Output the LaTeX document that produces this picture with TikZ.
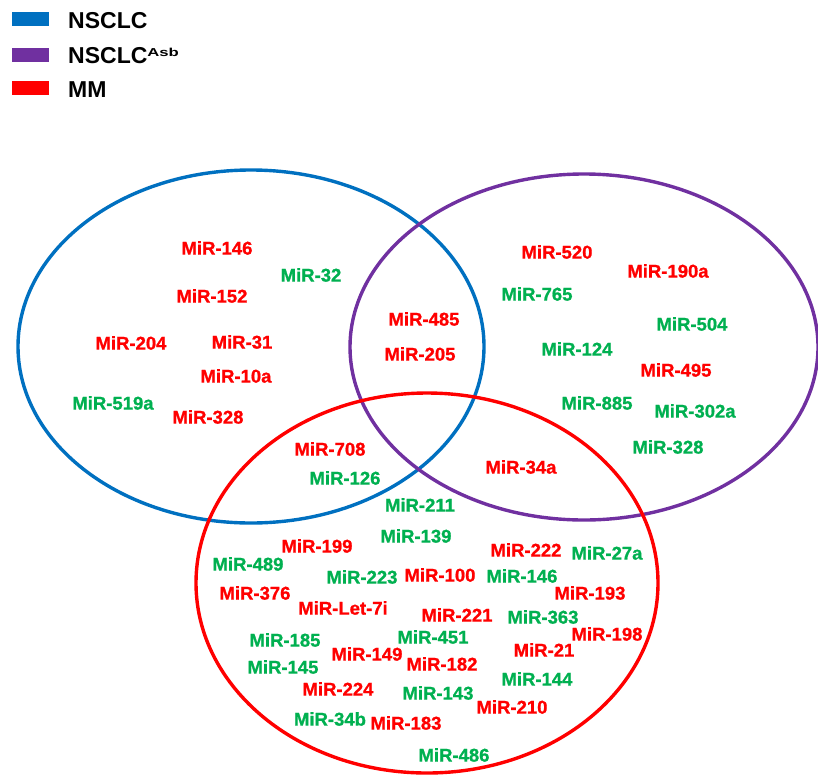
\documentclass[tikz,border=0pt]{standalone}
\usepackage{fontspec}
\setmainfont{Liberation Sans}
\newfontfamily\labfont{Liberation Sans Bold}[FakeBold=1]
\definecolor{nblue}{HTML}{0070C0}
\definecolor{npurple}{HTML}{7030A0}
\definecolor{mmred}{HTML}{FF0000}
\definecolor{mgreen}{HTML}{00B050}
\tikzset{
  lab/.style={font=\labfont\fontsize{18.5}{20}\selectfont, inner sep=0pt, text height=13.2pt, text depth=0pt},
  rd/.style={lab, text=mmred},
  gr/.style={lab, text=mgreen},
  swatch/.style={inner sep=0pt, minimum width=37pt, minimum height=14pt},
  legtxt/.style={anchor=west, inner sep=0pt, font=\bfseries\fontsize{23}{25}\selectfont, text height=16.5pt, text depth=0pt},
  venn/.style={line width=3.4pt}
}
\begin{document}
\begin{tikzpicture}[x=1pt,y=-1pt]
\useasboundingbox (0,0) rectangle (818,776);
% legend
\node[swatch, fill=nblue] (sw1) at (30.5,19) {};
\node[swatch, fill=npurple] (sw2) at (30.5,55) {};
\node[swatch, fill=mmred] (sw3) at (30.5,88) {};
\node[legtxt] (lt1) at (68,20) {NSCLC};
\node[legtxt] (lt2) at (68,55) {NSCLC\raisebox{7pt}{\scalebox{1.45}[1]{\fontsize{11.5}{12}\selectfont Asb}}};
\node[legtxt] (lt3) at (68,89) {MM};
% sets
\draw[venn, nblue] (251,346.5) ellipse [x radius=233pt, y radius=176.5pt];
\draw[venn, npurple] (584,347) ellipse [x radius=234pt, y radius=173pt];
\draw[venn, mmred] (427,583) ellipse [x radius=231pt, y radius=190pt];
% NSCLC only
\node[rd] (a1) at (217,248) {MiR-146};
\node[gr] (a2) at (311,275) {MiR-32};
\node[rd] (a3) at (212,296) {MiR-152};
\node[rd] (a4) at (131,343) {MiR-204};
\node[rd] (a5) at (242,342) {MiR-31};
\node[rd] (a6) at (236,376) {MiR-10a};
\node[gr] (a7) at (113,403) {MiR-519a};
\node[rd] (a8) at (208,417) {MiR-328};
% NSCLC & Asb
\node[rd] (b1) at (424,319) {MiR-485};
\node[rd] (b2) at (420,354) {MiR-205};
% Asb only
\node[rd] (c1) at (557,252) {MiR-520};
\node[rd] (c2) at (668,271) {MiR-190a};
\node[gr] (c3) at (537,294) {MiR-765};
\node[gr] (c4) at (692,324) {MiR-504};
\node[gr] (c5) at (577,349) {MiR-124};
\node[rd] (c6) at (676,370) {MiR-495};
\node[gr] (c7) at (597,403) {MiR-885};
\node[gr] (c8) at (695,411) {MiR-302a};
\node[gr] (c9) at (668,447) {MiR-328};
% NSCLC & MM
\node[rd] (d1) at (330,449) {MiR-708};
\node[gr] (d2) at (345,478) {MiR-126};
% Asb & MM
\node[rd] (e1) at (521,467) {MiR-34a};
% MM only
\node[gr] (f1) at (420,505) {MiR-211};
\node[gr] (f2) at (416,536) {MiR-139};
\node[rd] (f3) at (317,546) {MiR-199};
\node[rd] (f4) at (526,550) {MiR-222};
\node[gr] (f5) at (607,553) {MiR-27a};
\node[gr] (f6) at (248,564) {MiR-489};
\node[gr] (f7) at (362,577) {MiR-223};
\node[rd] (f8) at (440,575) {MiR-100};
\node[gr] (f9) at (522,576) {MiR-146};
\node[rd] (f10) at (590,593) {MiR-193};
\node[rd] (f11) at (255,593) {MiR-376};
\node[rd] (f12) at (343,608) {MiR-Let-7i};
\node[rd] (f13) at (457,615) {MiR-221};
\node[gr] (f14) at (543,617) {MiR-363};
\node[rd] (f15) at (607,634) {MiR-198};
\node[gr] (f16) at (285,640) {MiR-185};
\node[gr] (f17) at (433,637) {MiR-451};
\node[rd] (f18) at (544,650) {MiR-21};
\node[rd] (f19) at (367,654) {MiR-149};
\node[rd] (f20) at (442,664) {MiR-182};
\node[gr] (f21) at (283,667) {MiR-145};
\node[gr] (f22) at (537,679) {MiR-144};
\node[rd] (f23) at (338,689) {MiR-224};
\node[gr] (f24) at (438,693) {MiR-143};
\node[rd] (f25) at (512,707) {MiR-210};
\node[gr] (f26) at (330,719) {MiR-34b};
\node[rd] (f27) at (406,723) {MiR-183};
\node[gr] (f28) at (454,755) {MiR-486};
\end{tikzpicture}
\end{document}
